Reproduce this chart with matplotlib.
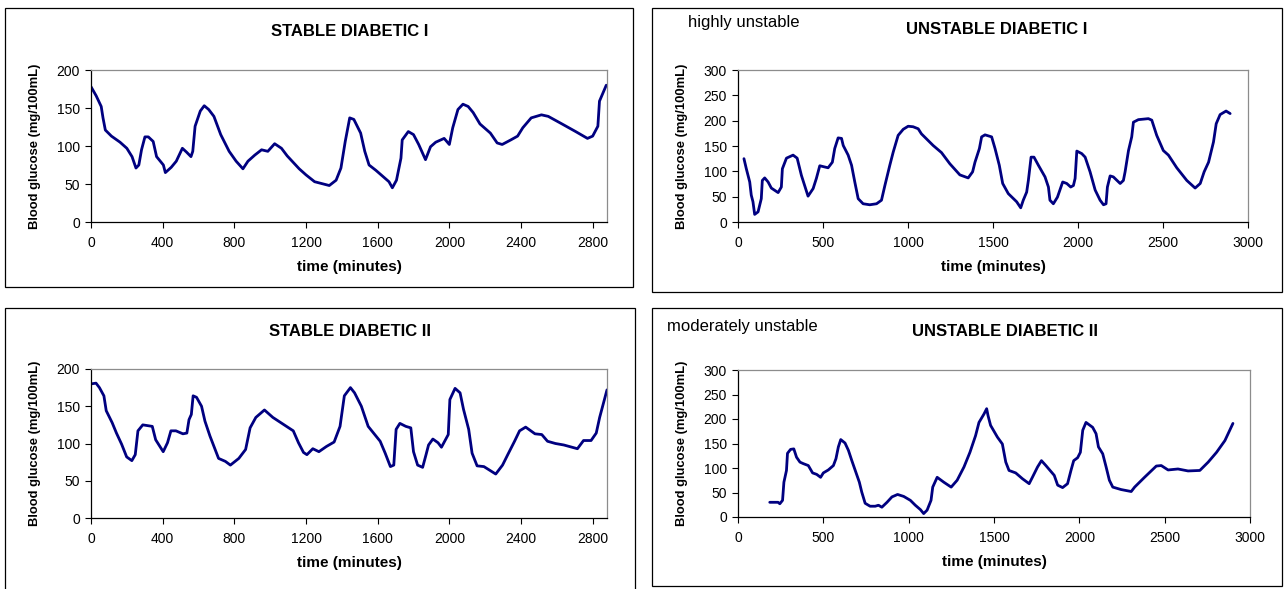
import matplotlib.pyplot as plt
from matplotlib.patches import Rectangle

W, H = 1287, 589
plt.rcParams['font.family'] = ['Liberation Sans', 'DejaVu Sans']

# time (minutes) and blood glucose (mg/100mL)
t_stable1 = [0, 29, 57, 67, 80, 114, 162, 200, 229, 251, 267, 282, 301, 320, 347, 366, 404, 415,
             448, 476, 510, 533, 558, 568, 581, 610, 632, 657, 686, 724, 771, 810, 848, 876, 914,
             952, 987, 1025, 1063, 1095, 1162, 1200, 1248, 1330, 1368, 1395, 1419, 1444, 1467,
             1505, 1528, 1552, 1590, 1629, 1663, 1682, 1705, 1730, 1737, 1771, 1800, 1829, 1867,
             1895, 1924, 1971, 2000, 2019, 2048, 2076, 2105, 2133, 2171, 2229, 2267, 2295, 2343,
             2381, 2410, 2457, 2514, 2552, 2629, 2705, 2771, 2800, 2829, 2838, 2876]
g_stable1 = [178, 166, 152, 137, 121, 113, 105, 97, 86, 71, 75, 95, 112, 112, 106, 86, 75, 65,
             72, 80, 97, 92, 86, 93, 126, 146, 153, 148, 139, 115, 93, 80, 70, 80, 88,
             95, 93, 103, 97, 87, 70, 62, 53, 48, 55, 71, 106, 137, 135,
             117, 93, 75, 68, 60, 53, 45, 55, 84, 108, 119, 115, 102, 82,
             99, 105, 110, 102, 124, 148, 155, 152, 144, 129, 117, 104, 102, 108,
             113, 124, 137, 141, 139, 129, 119, 110, 113, 126, 159, 180]

t_unstable1 = [35, 49, 69, 78, 88, 98, 118, 137, 143, 157, 177, 196, 236, 255, 261, 285, 324, 348,
               373, 412, 442, 461, 481, 505, 530, 555, 569, 589, 609, 619, 648, 668, 687, 707,
               736, 775, 815, 844, 864, 893, 913, 942, 972, 1001, 1030, 1060, 1079, 1148, 1197,
               1246, 1305, 1354, 1380, 1394, 1420, 1433, 1453, 1492, 1512, 1537, 1557, 1590,
               1639, 1663, 1678, 1698, 1708, 1724, 1741, 1767, 1806, 1826, 1835, 1855, 1879,
               1910, 1934, 1957, 1973, 1983, 1993, 2022, 2042, 2071, 2101, 2130, 2150, 2165,
               2173, 2189, 2208, 2248, 2267, 2277, 2297, 2316, 2326, 2355, 2385, 2414, 2434,
               2463, 2502, 2532, 2581, 2640, 2689, 2719, 2742, 2768, 2797, 2813, 2836, 2871, 2895]
g_unstable1 = [125, 105, 79, 53, 40, 15, 20, 46, 82, 87, 79, 67, 58, 69, 105, 126, 132, 126,
               92, 51, 66, 86, 111, 109, 107, 118, 145, 166, 165, 151, 132, 112, 79, 46,
               36, 34, 36, 43, 72, 112, 138, 171, 183, 189, 188, 184, 174, 151, 137,
               115, 93, 87, 99, 118, 145, 168, 172, 168, 145, 112, 76, 56,
               40, 28, 43, 59, 82, 128, 128, 112, 89, 69, 43, 36, 49,
               79, 76, 69, 72, 86, 140, 135, 128, 99, 63, 43, 34, 36,
               69, 91, 89, 76, 82, 99, 141, 168, 197, 202, 203, 204, 201,
               171, 141, 132, 107, 82, 67, 76, 99, 118, 158, 194, 212, 219, 214]

t_stable2 = [0, 28, 47, 72, 85, 118, 142, 171, 199, 228, 247, 262, 289, 342, 361, 403, 427, 446,
             474, 513, 535, 547, 560, 570, 589, 617, 636, 664, 712, 750, 778, 825, 863, 888, 920,
             968, 1015, 1053, 1091, 1129, 1158, 1186, 1205, 1238, 1272, 1314, 1357, 1390, 1414,
             1448, 1471, 1509, 1547, 1614, 1642, 1671, 1690, 1703, 1724, 1757, 1785, 1800, 1823,
             1851, 1870, 1884, 1908, 1937, 1956, 1994, 2003, 2032, 2060, 2079, 2108, 2127, 2155,
             2193, 2259, 2297, 2326, 2364, 2392, 2426, 2478, 2516, 2548, 2592, 2639, 2715, 2749,
             2791, 2820, 2839, 2880]
g_stable2 = [180, 181, 175, 164, 144, 128, 114, 99, 82, 77, 85, 117, 125, 123, 105, 89, 101, 117,
             117, 113, 114, 132, 139, 164, 162, 150, 130, 110, 80, 76, 71, 80, 92, 121, 135,
             145, 135, 129, 123, 117, 101, 88, 85, 93, 89, 96, 102, 123, 164,
             175, 168, 150, 123, 103, 87, 69, 71, 119, 127, 123, 121, 89, 71,
             68, 85, 98, 106, 101, 95, 112, 159, 174, 168, 146, 119, 87, 70,
             69, 59, 71, 85, 103, 117, 122, 113, 112, 103, 100, 98, 93, 104,
             104, 114, 135, 172]

t_unstable2 = [186, 235, 245, 261, 269, 284, 290, 308, 327, 343, 363, 382, 412, 437, 461, 484, 500,
               529, 559, 574, 588, 602, 627, 647, 667, 686, 711, 725, 745, 774, 804, 823, 843,
               873, 902, 935, 971, 1010, 1039, 1069, 1088, 1108, 1131, 1141, 1167, 1206, 1249,
               1284, 1324, 1359, 1392, 1412, 1441, 1457, 1465, 1480, 1520, 1549, 1569, 1588,
               1627, 1667, 1706, 1725, 1755, 1778, 1804, 1853, 1873, 1902, 1931, 1951, 1967,
               1990, 2006, 2020, 2039, 2078, 2098, 2112, 2137, 2157, 2176, 2196, 2245, 2304,
               2324, 2382, 2451, 2480, 2520, 2578, 2637, 2706, 2755, 2804, 2853, 2900]
g_unstable2 = [30, 30, 27, 34, 71, 95, 130, 138, 139, 122, 112, 109, 105, 90, 87, 81, 90,
               96, 105, 119, 143, 158, 151, 136, 115, 96, 71, 51, 28, 22, 22, 24, 20,
               30, 41, 46, 42, 34, 24, 15, 7, 14, 34, 61, 81, 71, 61,
               75, 102, 132, 166, 193, 210, 221, 207, 187, 163, 149, 112, 95,
               90, 78, 68, 81, 102, 115, 105, 85, 65, 60, 68, 95, 115,
               121, 132, 177, 193, 183, 170, 143, 129, 102, 75, 61, 56, 52,
               61, 81, 104, 105, 96, 98, 94, 95, 112, 132, 156, 191]

panels = [
    ("STABLE DIABETIC I", None, t_stable1, g_stable1, [0, 2880, 400], [0, 200, 50], (91, 607, 70, 222)),
    ("UNSTABLE DIABETIC I", "highly unstable", t_unstable1, g_unstable1, [0, 3000, 500], [0, 300, 50], (738, 1248, 70, 222)),
    ("STABLE DIABETIC II", None, t_stable2, g_stable2, [0, 2880, 400], [0, 200, 50], (91, 607, 369, 518)),
    ("UNSTABLE DIABETIC II", "moderately unstable", t_unstable2, g_unstable2, [0, 3000, 500], [0, 300, 50], (738, 1250, 370, 517)),
]
frames = [(5, 633, 8, 287), (652, 1282, 8, 292), (5, 635, 308, 592), (652, 1282, 308, 586)]
title_pos = [(350, 31), (997, 29), (350, 331), (1005, 331)]
note_pos = [None, (688, 22), None, (667, 326)]

fig = plt.figure(figsize=(W / 100, H / 100), dpi=100)

for (x0, x1, y0, y1) in frames:
    fig.patches.append(Rectangle((x0 / W, 1 - y1 / H), (x1 - x0) / W, (y1 - y0) / H,
                                 transform=fig.transFigure, fill=False, ec='black', lw=0.9))

for i, (title, note, t, g, xr, yr, (l, r, top, bot)) in enumerate(panels):
    ax = fig.add_axes([l / W, 1 - bot / H, (r - l) / W, (bot - top) / H])
    ax.plot(t, g, color='#000080', lw=2.0, solid_joinstyle='round', solid_capstyle='round')
    ax.set_xlim(xr[0], xr[1])
    ax.set_ylim(yr[0], yr[1])
    xt = list(range(xr[0], xr[1] + 1, xr[2]))
    ax.set_xticks([v for v in xt if v <= xr[1]])
    ax.set_yticks(list(range(yr[0], yr[1] + 1, yr[2])))
    for s in ['top', 'right']:
        ax.spines[s].set_color('#8c8c8c')
    for s in ['left', 'bottom']:
        ax.spines[s].set_color('black')
    for s in ax.spines.values():
        s.set_linewidth(0.9)
    ax.tick_params(direction='out', length=4, width=0.8, labelsize=10)
    ax.tick_params(axis='x', pad=6)
    ax.tick_params(axis='y', pad=4)
    ax.set_ylabel("Blood glucose (mg/100mL)", fontsize=9.4, fontweight='bold', labelpad=11)
    ax.set_xlabel("time (minutes)", fontsize=11, fontweight='bold', labelpad=7)
    tx, ty = title_pos[i]
    fig.text(tx / W, 1 - ty / H, title, ha='center', va='center', fontsize=12, fontweight='bold')
    if note:
        nx, ny = note_pos[i]
        fig.text(nx / W, 1 - ny / H, note, ha='left', va='center', fontsize=12)

fig.savefig('out.png', dpi=100)
